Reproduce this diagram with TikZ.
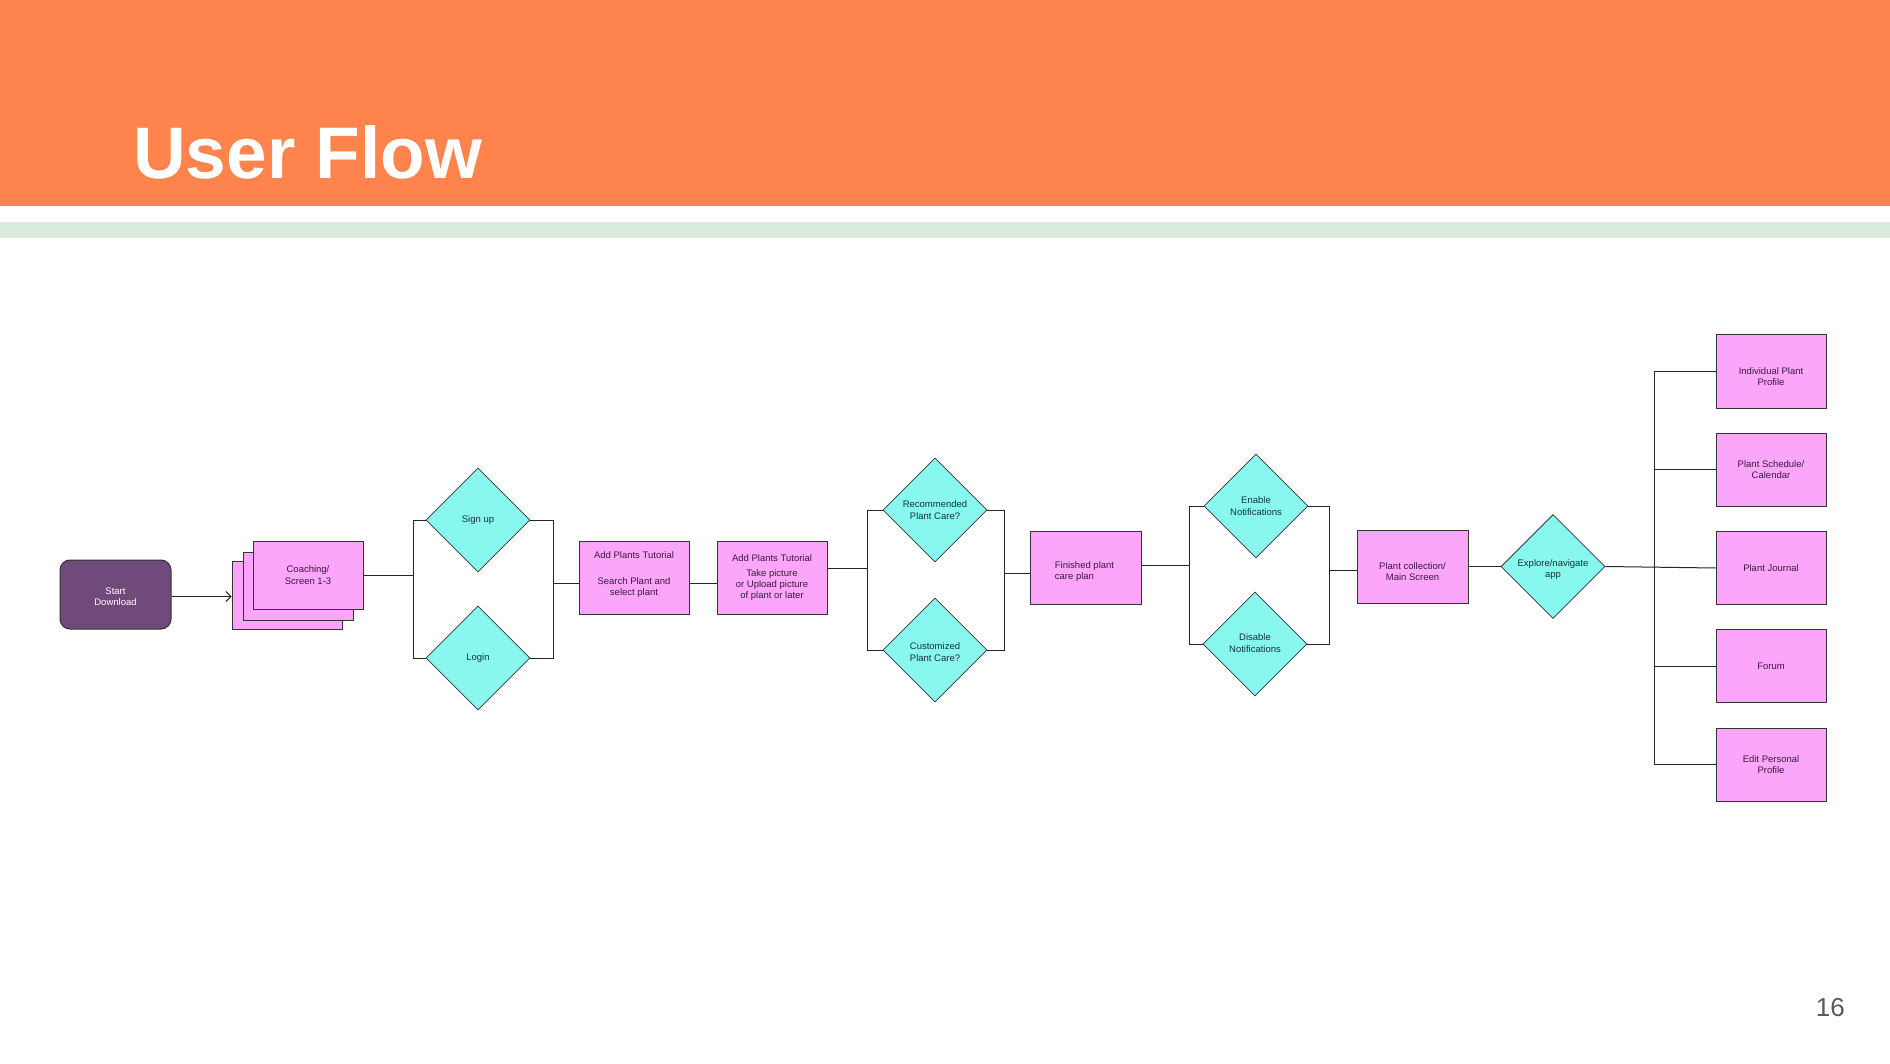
\documentclass[tikz,border=0pt]{standalone}
\usepackage{fontspec}
\setmainfont{Liberation Sans}
\usetikzlibrary{shapes.geometric,arrows.meta,calc}
\definecolor{hdrorange}{HTML}{FF834D}
\definecolor{hdrgreen}{HTML}{D9EAD8}
\definecolor{pinkfill}{HTML}{FBA6FB}
\definecolor{cyanfill}{HTML}{88F8EF}
\definecolor{purplefill}{HTML}{714A7C}
\definecolor{edgec}{HTML}{333333}
\definecolor{pinktext}{HTML}{3A1A3A}
\definecolor{cyantext}{HTML}{143434}
\definecolor{pagenum}{HTML}{595959}
\tikzset{
  small/.style={font=\fontsize{9.5}{11.3}\selectfont},
  pbox/.style={rectangle, fill=pinkfill, draw=edgec, line width=1pt, minimum width=110pt, minimum height=73pt, inner sep=0pt, align=center, text=pinktext, small},
  sbox/.style={pbox, minimum height=68pt},
  dia/.style={diamond, aspect=1, fill=cyanfill, draw=edgec, line width=0.8pt, minimum width=104pt, minimum height=104pt, inner sep=0pt, align=center, text=cyantext, small},
  startbox/.style={rectangle, rounded corners=10pt, fill=purplefill, draw=edgec, line width=1pt, minimum width=111pt, minimum height=69pt, inner sep=0pt, align=center, text=white, small},
  ptxt/.style={inner sep=0pt, align=center, text=pinktext, small},
  ctxt/.style={inner sep=0pt, align=center, text=cyantext, small},
  conn/.style={draw=black!85, line width=1pt},
}
\begin{document}
\begin{tikzpicture}[x=1pt,y=-1pt]
\useasboundingbox (0,0) rectangle (1890,1064);
% header
\fill[hdrorange] (0,0) rectangle (1890,206);
\fill[hdrgreen] (0,222) rectangle (1890,238);
\node[anchor=base west, inner sep=0pt, text=white, font=\fontsize{73}{73}\selectfont\bfseries] (title) at (133,179) {User Flow};
\node[anchor=base east, inner sep=0pt, text=pagenum, font=\fontsize{26}{26}\selectfont] (pnum) at (1845,1016) {16};

% nodes
\node[startbox] (start) at (115.5,594.5) {};
\node[inner sep=0pt, align=center, text=white, small] (startt) at ([yshift=-2pt]start.center) {Start\\Download};
\node[sbox] (cback) at (287,595) {};
\node[sbox] (cmid) at (298,586.5) {};
\node[sbox] (coach) at (308,575) {Coaching/\\Screen 1-3};

\node[dia] (signup) at (478,520) {Sign up};
\node[dia] (login) at (478,658) {Login};

\node[pbox] (apt1) at (634,577.5) {};
\node[ptxt] (apt1t) at ([yshift=3pt]apt1.center) {Add Plants Tutorial\\[15pt]Search Plant and\\select plant};
\node[pbox] (apt2) at (772,577.5) {Add Plants Tutorial\\[4pt]Take picture\\or Upload picture\\of plant or later};

\node[dia] (rec) at (935,510) {Recommended\\Plant Care?};
\node[dia] (cust) at (935,650) {};
\node[ctxt] (custt) at ([yshift=-2pt]cust.center) {Customized\\Plant Care?};

\node[pbox, minimum width=111pt] (fin) at (1085.5,567.5) {};
\node[ptxt, align=left] (fint) at ([yshift=-4pt,xshift=-1pt]fin.center) {Finished plant\\care plan};

\node[dia] (en) at (1256,506) {Enable\\Notifications};
\node[dia] (dis) at (1255,644) {};
\node[ctxt] (dist) at ([yshift=1pt]dis.center) {Disable\\Notifications};

\node[pbox, minimum width=111pt] (pc) at (1412.5,566.5) {};
\node[ptxt] (pct) at ([yshift=-5pt]pc.center) {Plant collection/\\Main Screen};
\node[dia] (exp) at (1553,566.5) {};
\node[ctxt] (expt) at ([yshift=-3pt]exp.center) {Explore/navigate\\app};

\node[pbox] (j1) at (1771,371.5) {};
\node[ptxt] (j1t) at ([yshift=-5pt]j1.center) {Individual Plant\\Profile};
\node[pbox] (j2) at (1771,469.5) {Plant Schedule/\\Calendar};
\node[pbox] (j3) at (1771,568) {Plant Journal};
\node[pbox] (j4) at (1771,666) {Forum};
\node[pbox] (j5) at (1771,764.5) {Edit Personal\\Profile};

% bracket x positions
\coordinate (b1) at (413,0);
\coordinate (b2) at (553,0);
\coordinate (b3) at (867,0);
\coordinate (b4) at (1004,0);
\coordinate (b5) at (1189,0);
\coordinate (b6) at (1329,0);
\coordinate (b7) at (1654,0);

% connectors
\draw[conn, -{Straight Barb[length=5pt,width=10pt]}] ([yshift=-2pt]start.east) -- ([yshift=-2pt]start.east -| cback.west);

\draw[conn] (coach.east) -- (coach.east -| b1);
\draw[conn] (signup.west) -- (signup.west -| b1) -- (login.west -| b1) -- (login.west);
\draw[conn] (signup.east) -- (signup.east -| b2) -- (login.east -| b2) -- (login.east);
\draw[conn] ([yshift=-6pt]apt1.west) -- ([yshift=-6pt]apt1.west -| b2);
\draw[conn] ([yshift=-6pt]apt1.east) -- ([yshift=-6pt]apt2.west);

\draw[conn] ([yshift=9pt]apt2.east) -- ([yshift=9pt]apt2.east -| b3);
\draw[conn] (rec.west) -- (rec.west -| b3) -- (cust.west -| b3) -- (cust.west);
\draw[conn] (rec.east) -- (rec.east -| b4) -- (cust.east -| b4) -- (cust.east);
\draw[conn] ([yshift=-6pt]fin.west) -- ([yshift=-6pt]fin.west -| b4);

\draw[conn] ([yshift=2pt]fin.east) -- ([yshift=2pt]fin.east -| b5);
\draw[conn] (en.west) -- (en.west -| b5) -- (dis.west -| b5) -- (dis.west);
\draw[conn] (en.east) -- (en.east -| b6) -- (dis.east -| b6) -- (dis.east);
\draw[conn] ([yshift=-4pt]pc.west) -- ([yshift=-4pt]pc.west -| b6);

\draw[conn] (pc.east) -- (exp.west);
\draw[conn] (exp.east) -- (j3.west);
\draw[conn] (j1.west -| b7) -- (j5.west -| b7);
\draw[conn] (j1.west) -- (j1.west -| b7);
\draw[conn] (j2.west) -- (j2.west -| b7);
\draw[conn] (j4.west) -- (j4.west -| b7);
\draw[conn] (j5.west) -- (j5.west -| b7);
\end{tikzpicture}
\end{document}
